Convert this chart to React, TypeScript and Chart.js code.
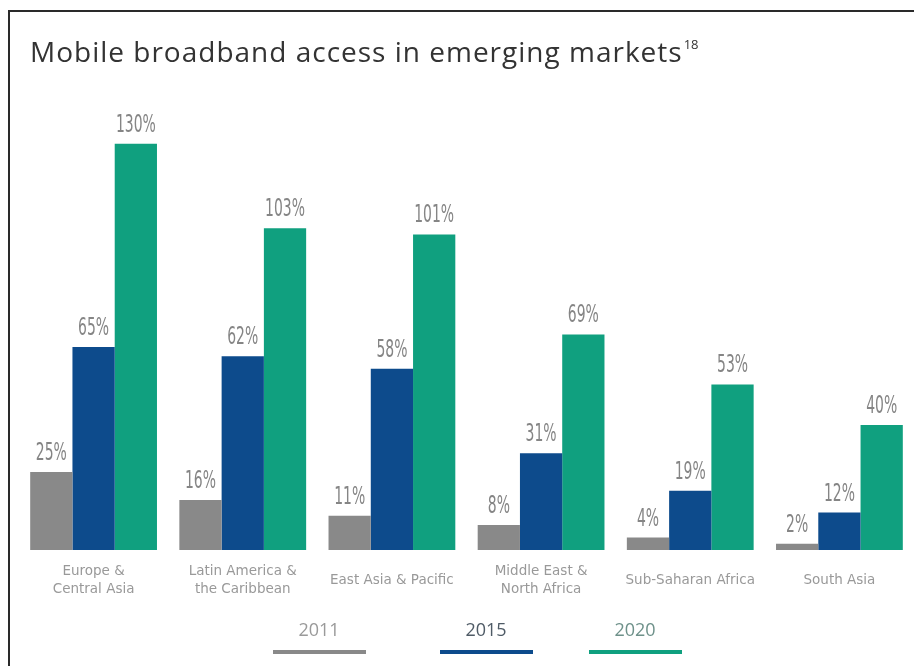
import React, { useEffect, useRef } from "react";
import { Chart, registerables } from "chart.js";

Chart.register(...registerables);

const TITLE = "Mobile broadband access in emerging markets";
const TITLE_NOTE = "18";

const categories: string[][] = [
  ["Europe &", "Central Asia"],
  ["Latin America &", "the Caribbean"],
  ["East Asia & Pacific"],
  ["Middle East &", "North Africa"],
  ["Sub-Saharan Africa"],
  ["South Asia"],
];

const seriesNames = ["2011", "2015", "2020"];
const values2011 = [25, 16, 11, 8, 4, 2];
const values2015 = [65, 62, 58, 31, 19, 12];
const values2020 = [130, 103, 101, 69, 53, 40];

const seriesColors = ["#898989", "#0d4b8c", "#10a07f"];
const legendTextColors = ["#9a9a9a", "#4f5b66", "#6e918a"];
const legendCenters = [319, 486, 635];

const decorPlugin = {
  id: "decor",
  beforeDraw(chart: any) {
    const ctx = chart.ctx;
    ctx.save();
    ctx.fillStyle = "#ffffff";
    ctx.fillRect(0, 0, chart.width, chart.height);
    ctx.restore();
  },
  afterDatasetsDraw(chart: any) {
    const ctx = chart.ctx;
    ctx.save();
    ctx.fillStyle = "#858585";
    ctx.font = '25px "Liberation Sans Narrow", "DejaVu Sans Condensed", sans-serif';
    ctx.textAlign = "center";
    ctx.textBaseline = "alphabetic";
    chart.data.datasets.forEach((ds: any, di: number) => {
      const meta = chart.getDatasetMeta(di);
      meta.data.forEach((el: any, i: number) => {
        ctx.save();
        ctx.translate(el.x, el.y - 12);
        ctx.scale(0.62, 1);
        ctx.fillText(ds.data[i] + "%", 0, 0);
        ctx.restore();
      });
    });
    ctx.restore();
  },
  afterDraw(chart: any) {
    const ctx = chart.ctx;
    ctx.save();
    // title
    ctx.fillStyle = "#333333";
    ctx.textAlign = "left";
    ctx.textBaseline = "alphabetic";
    ctx.font = '28px "Open Sans", sans-serif';
    (ctx as any).letterSpacing = "1px";
    ctx.fillText(TITLE, 30, 62);
    const w = ctx.measureText(TITLE).width;
    (ctx as any).letterSpacing = "0px";
    ctx.font = '13px "Open Sans", sans-serif';
    ctx.fillText(TITLE_NOTE, 30 + w + 1, 49);

    // legend
    chart.data.datasets.forEach((ds: any, di: number) => {
      const cx = legendCenters[di];
      ctx.font = '18px "Open Sans", sans-serif';
      ctx.textAlign = "center";
      ctx.fillStyle = legendTextColors[di];
      ctx.fillText(ds.label, cx, 636);
      ctx.fillStyle = ds.backgroundColor;
      ctx.fillRect(cx - 46, 650, 93, 4);
    });

    // frame
    ctx.fillStyle = "#2a2a2a";
    ctx.fillRect(8, 10, chart.width - 8, 2);
    ctx.fillRect(8, 10, 2, chart.height - 10);
    ctx.restore();
  },
};

export default function App() {
  const ref = useRef<HTMLCanvasElement | null>(null);

  useEffect(() => {
    if (!ref.current) return;
    const chart = new Chart(ref.current, {
      type: "bar",
      data: {
        labels: categories,
        datasets: [
          { label: seriesNames[0], data: values2011, backgroundColor: seriesColors[0] },
          { label: seriesNames[1], data: values2015, backgroundColor: seriesColors[1] },
          { label: seriesNames[2], data: values2020, backgroundColor: seriesColors[2] },
        ],
      },
      options: {
        responsive: false,
        animation: false,
        layout: { padding: { top: 100, bottom: 46, left: 19, right: 0 } },
        datasets: {
          bar: { categoryPercentage: 0.85, barPercentage: 1.0 },
        },
        plugins: {
          legend: { display: false },
          title: { display: false },
          tooltip: { enabled: false },
        },
        scales: {
          x: {
            grid: { display: false, drawTicks: false },
            border: { display: false },
            afterFit: (scale: any) => {
              scale.height = 70;
            },
            ticks: {
              autoSkip: false,
              maxRotation: 0,
              minRotation: 0,
              crossAlign: "center",
              padding: 21,
              color: "#999999",
              font: { family: '"DejaVu Sans", sans-serif', size: 13.5, lineHeight: 1.35 },
            },
          },
          y: {
            display: false,
            min: 0,
            max: 144,
          },
        },
      },
      plugins: [decorPlugin],
    });
    return () => chart.destroy();
  }, []);

  return (
    <canvas
      ref={ref}
      width={914}
      height={666}
      style={{ position: "absolute", left: 0, top: 0, display: "block" }}
    />
  );
}
